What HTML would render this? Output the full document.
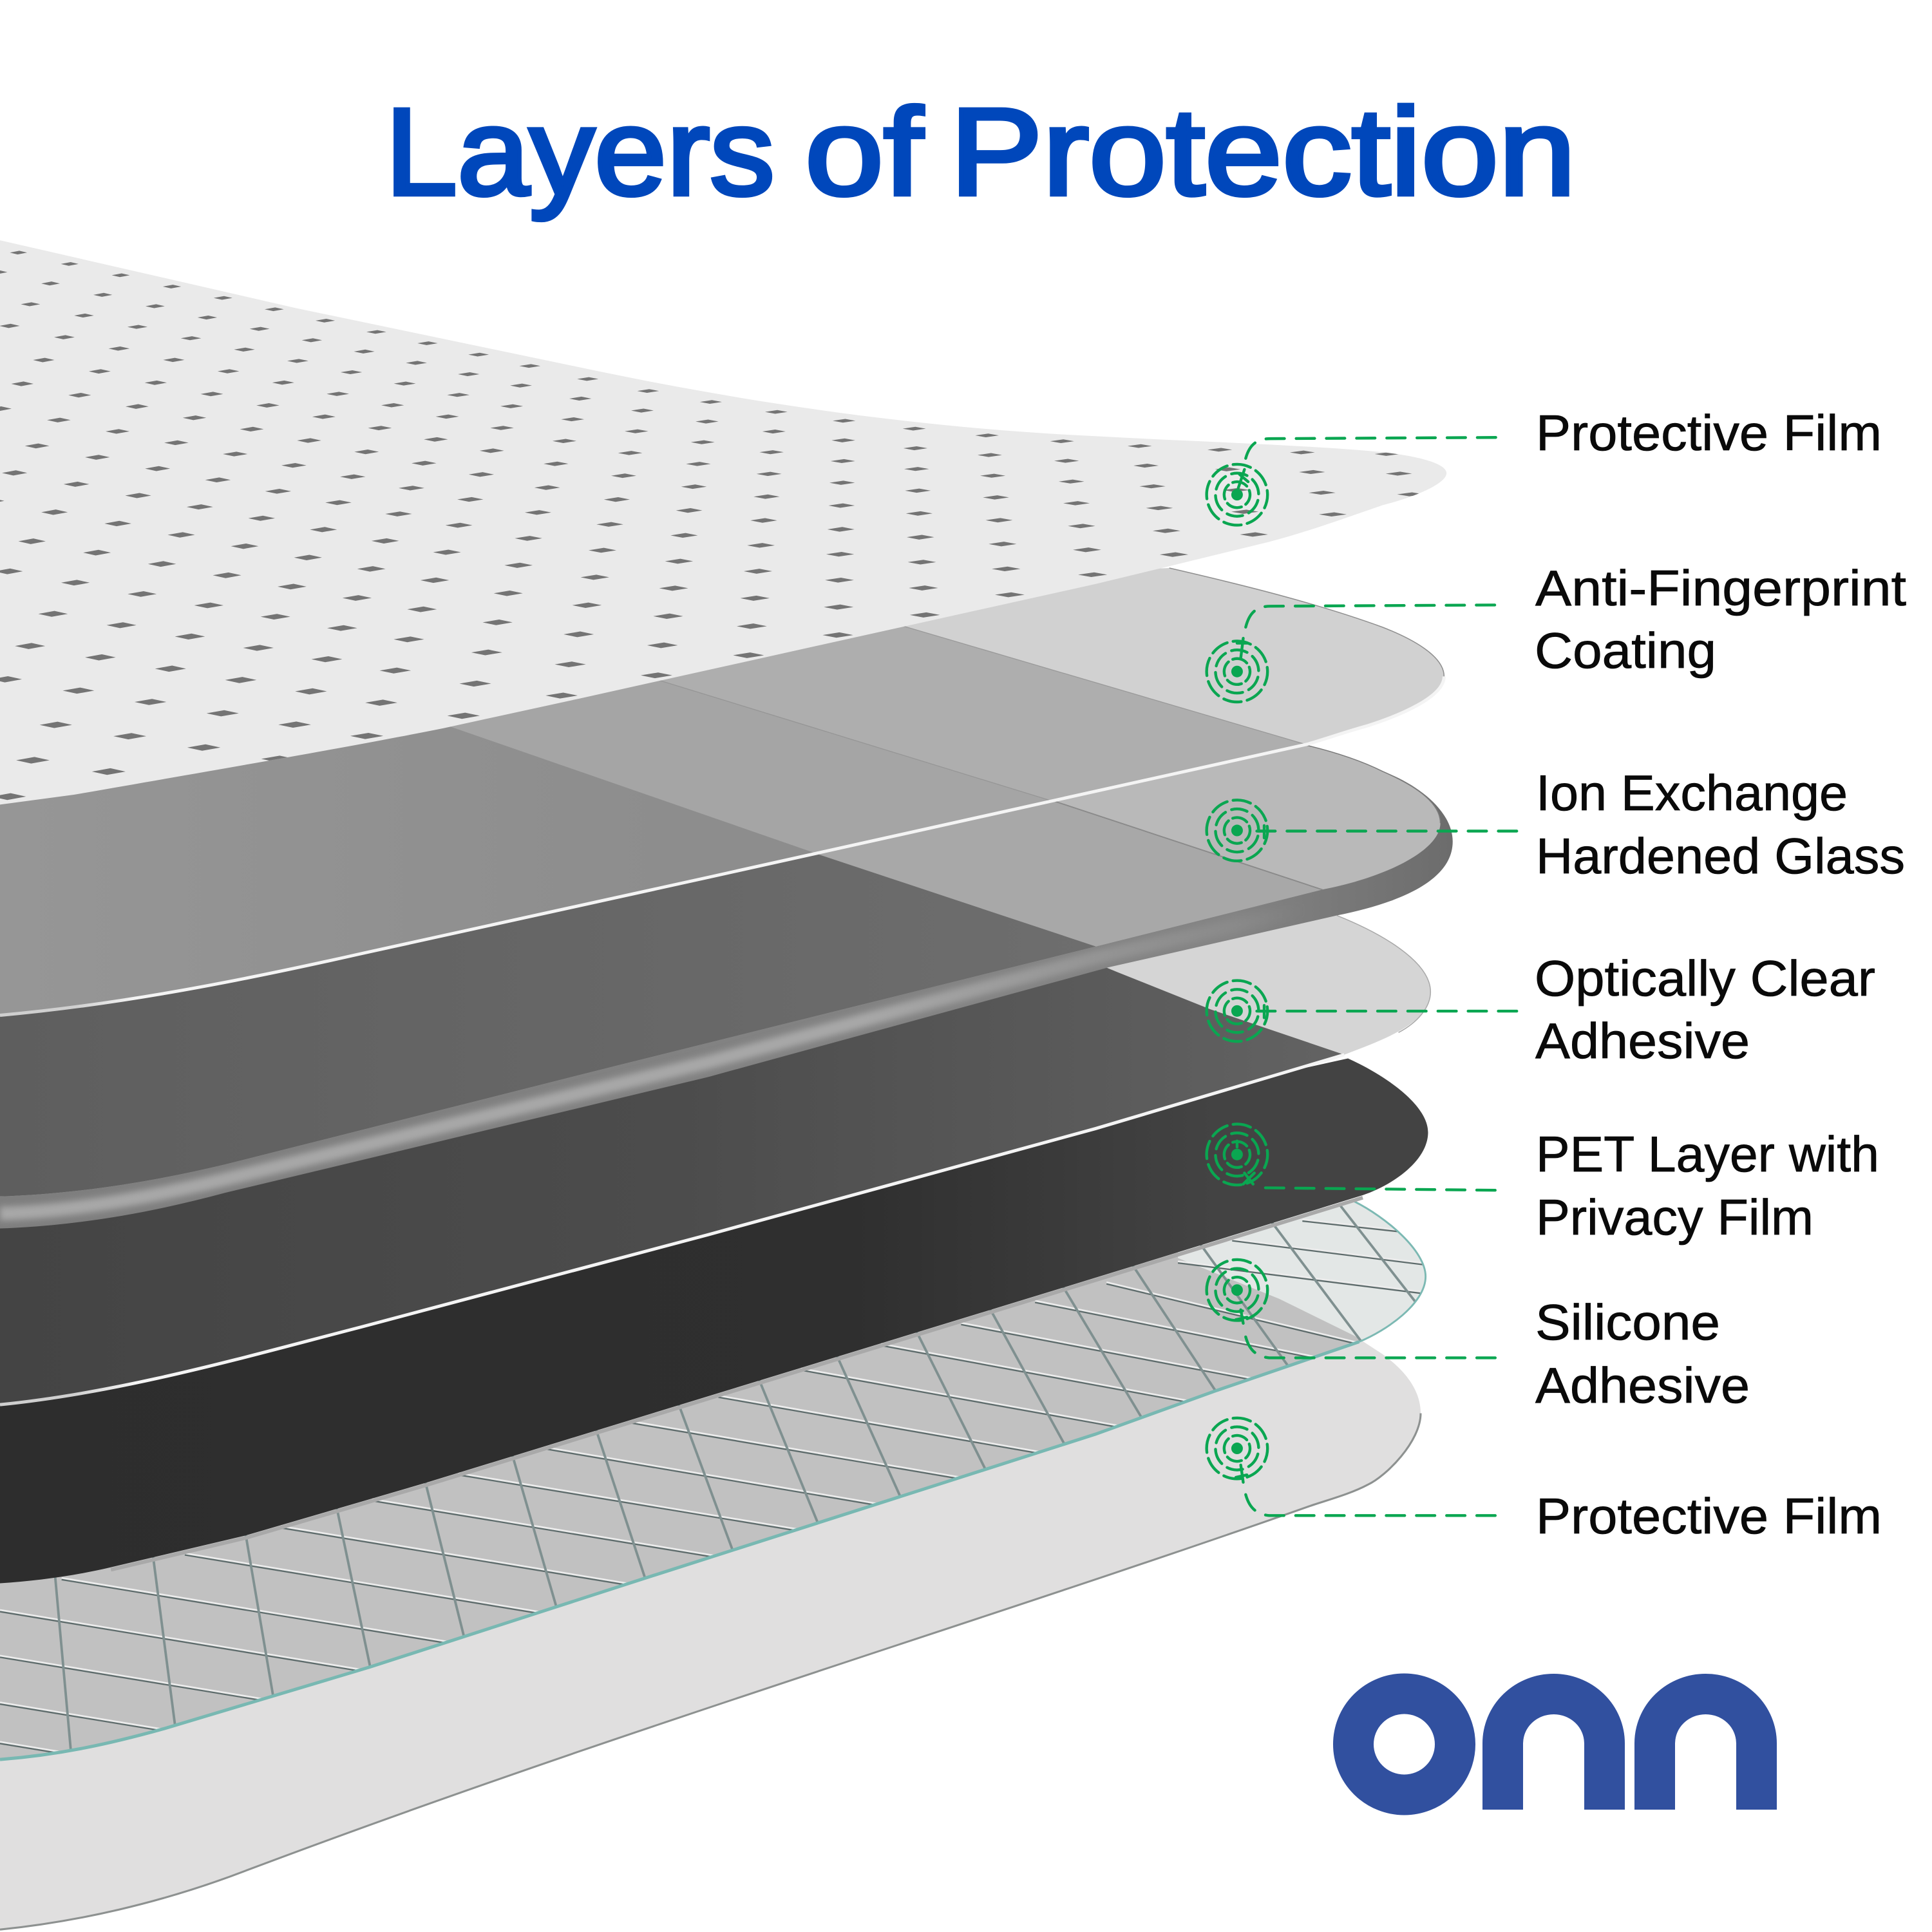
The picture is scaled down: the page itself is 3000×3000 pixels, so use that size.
<!DOCTYPE html>
<html><head><meta charset="utf-8"><title>Layers of Protection</title>
<style>html,body{margin:0;padding:0;background:#fff}svg{display:block}
text{font-family:"Liberation Sans",sans-serif}</style></head>
<body>
<svg width="3000" height="3000" viewBox="0 0 3000 3000">
<defs>
<clipPath id="c1"><path id="p1" d="M0 195L240 250L470 298C620 330 760 348 889 354C960 358 1060 361 1122 367C1150 370 1174 376 1174 384C1174 392 1150 403 1122 410C1090 421 1060 432 1029 440L947 460L889 474L470 567L360 591C280 607 180 624 60 645L0 653Z"/></clipPath>
<clipPath id="c2"><path id="p2" d="M949 461C1010 475 1070 490 1122 509C1145 518 1172 532 1172 549C1172 566 1135 581 1110 589C1095 593 1078 599 1061 604L575 712L293 774C200 795 100 815 0 824L0 500Z"/></clipPath>
<clipPath id="c3"><path id="p3" d="M1061 605C1090 612 1110 620 1122 626C1145 636 1169 650 1169 668C1169 690 1125 712 1073 722L890 768L500 865L183 945C120 960 60 969 0 971L0 600Z"/></clipPath>
<clipPath id="c5"><path id="p5" d="M1085 743C1120 757 1161 780 1161 805C1161 830 1125 843 1091 856L889 916L575 1002L293 1077C200 1101 100 1130 0 1140L0 900Z"/></clipPath>
<clipPath id="cg"><path id="pg" d="M1099 975C1125 988 1157 1015 1157 1036C1157 1058 1125 1080 1103 1089L986 1129L889 1164L523 1281L300 1353L133 1403C90 1415 50 1424 0 1428L0 1200Z"/></clipPath>
<linearGradient id="g3" x1="0" x2="1" y1="0" y2="0"><stop offset="0" stop-color="#5e5e5e"/><stop offset="1" stop-color="#6e6e6e"/></linearGradient>
<linearGradient id="g4" x1="0" x2="1" y1="0" y2="0"><stop offset="0" stop-color="#969696"/><stop offset=".6" stop-color="#8d8d8d"/><stop offset="1" stop-color="#8d8d8d"/></linearGradient>
<linearGradient id="g5" x1="0" x2="1" y1="0" y2="0"><stop offset="0" stop-color="#444"/><stop offset=".5" stop-color="#4c4c4c"/><stop offset="1" stop-color="#636363"/></linearGradient>
<linearGradient id="g6" x1="0" x2="1" y1="0" y2="0"><stop offset="0" stop-color="#2d2d2d"/><stop offset=".6" stop-color="#2f2f2f"/><stop offset=".85" stop-color="#434343"/><stop offset="1" stop-color="#434343"/></linearGradient>
<linearGradient id="gr" x1="0" x2="1" y1="0" y2="0"><stop offset="0" stop-color="#7e7e7e"/><stop offset=".85" stop-color="#848484"/><stop offset="1" stop-color="#6c6c6c"/></linearGradient>
<linearGradient id="wl" gradientUnits="userSpaceOnUse" x1="60" y1="0" x2="110" y2="0"><stop offset="0" stop-color="#cfcfcf"/><stop offset="1" stop-color="#f4f4f4"/></linearGradient>
<linearGradient id="hl" gradientUnits="userSpaceOnUse" x1="700" y1="0" x2="1060" y2="0"><stop offset="0" stop-color="#a8a8a8"/><stop offset="1" stop-color="#a8a8a8" stop-opacity="0"/></linearGradient>
<filter id="bl" filterUnits="userSpaceOnUse" x="-20" y="700" width="1120" height="320"><feGaussianBlur stdDeviation="2.5"/></filter>
<g id="t" fill="none" stroke="#0aa651" stroke-width="2.3" stroke-linecap="round">
<circle r="24.7" stroke-dasharray="14.5 4.9" transform="rotate(-8)"/>
<circle r="17.5" stroke-dasharray="13 5.3" transform="rotate(15)"/>
<circle r="10.5" stroke-dasharray="12.5 4" transform="rotate(-20)"/>
<circle r="4.7" fill="#0aa651" stroke="none"/>
</g>
</defs>
<rect width="3000" height="3000" fill="#fff"/>

<g transform="scale(1.91327)">
<!-- bottom protective film -->
<path d="M1038 1054L1099 1084L1122 1099C1140 1112 1153 1128 1153 1147C1153 1170 1125 1198 1110 1205C1095 1213 1075 1218 1061 1223C800 1315 500 1405 200 1518C130 1545 60 1560 0 1566L0 1300Z" fill="#e0dfdf"/>
<path d="M1153 1147C1153 1170 1125 1198 1110 1205C1095 1213 1075 1218 1061 1223C800 1315 500 1405 200 1518C130 1545 60 1560 0 1566" fill="none" stroke="#8d9190" stroke-width="1.6"/>

<!-- mesh glass -->
<use href="#pg" fill="#e3e7e6"/>
<g clip-path="url(#cg)">
<path d="M956 1021L1038 1054L1099 1084L1125 1100L1000 1200L0 1500L0 1100L956 1000Z" fill="#c1c1c1"/>
<g id="mesh"></g>
</g>
<path d="M1099 975C1125 988 1157 1015 1157 1036C1157 1058 1125 1080 1103 1089" fill="none" stroke="#7cb9b3" stroke-width="1.5"/>
<path d="M1103 1089L986 1129L889 1164L523 1281L300 1353L133 1403C90 1415 50 1424 0 1428" fill="none" stroke="#78b8b2" stroke-width="2.6"/>

<!-- PET dark layer -->
<path d="M1106 972L889 1039L523 1151L347 1205L200 1248L90 1274" fill="none" stroke="#a9a9a9" stroke-width="3"/>
<path d="M1094 859C1125 873 1159 897 1159 919C1159 942 1130 962 1106 970L889 1037L523 1149L347 1203L200 1246L90 1272C60 1279 30 1283 0 1285L0 1100Z" fill="url(#g6)"/>

<!-- OCA layer -->
<use href="#p5" fill="#d5d5d5"/>
<g clip-path="url(#c5)"><path d="M365 590L660 692L890 782L907 789L982 819L1091 856L1100 860L0 1200L0 590Z" fill="url(#g5)"/></g>
<path d="M1091 856L889 916L575 1002L293 1077C200 1101 100 1130 0 1140" fill="none" stroke="url(#wl)" stroke-width="2.6"/>
<path d="M1085 743C1120 757 1161 780 1161 805C1161 818 1150 830 1135 838" fill="none" stroke="#a9a9a9" stroke-width=".8"/>

<!-- Ion glass + rim -->
<path d="M1122 626C1150 636 1179 658 1179 683C1179 715 1135 733 1085 743L900 785L575 874L183 968C120 985 60 995 0 997L0 960Z" fill="url(#gr)"/>
<path d="M0 985C60 983 120 972 183 957L575 862L890 777L1060 738" fill="none" stroke="url(#hl)" stroke-width="11" filter="url(#bl)"/>
<use href="#p3" fill="#b9b9b9"/>
<g clip-path="url(#c3)">
<path d="M545 555L855 650L1073 722L1090 800L0 1000L0 555Z" fill="#a8a8a8" stroke="#8a8a8a" stroke-width="1"/>
<path d="M365 590L660 692L895 770L900 800L0 1000L0 590Z" fill="url(#g3)"/>
</g>
<path d="M1061 605C1090 612 1110 620 1122 626C1145 636 1169 650 1169 668" fill="none" stroke="#7a7a7a" stroke-width=".8"/>

<!-- Anti-fingerprint coating -->
<use href="#p2" fill="#d1d1d1"/>
<g clip-path="url(#c2)">
<path d="M600 469L1100 616L0 900L0 469Z" fill="#aeaeae" stroke="#9a9a9a" stroke-width=".7"/>
<path d="M450 526L1000 695L0 900L0 526Z" fill="#a5a5a5" stroke="#969696" stroke-width=".7"/>
<path d="M300 567L900 775L0 1000L0 567Z" fill="url(#g4)"/>
</g>
<path d="M949 461C1010 475 1070 490 1122 509C1145 518 1172 532 1172 549" fill="none" stroke="#8f8f8f" stroke-width=".8"/>
<path d="M1172 549C1172 566 1135 581 1110 589C1095 593 1078 599 1061 604L575 712L293 774C200 795 100 815 0 824" fill="none" stroke="url(#wl)" stroke-width="2.6"/>

<!-- top film with dots -->
<use href="#p1" fill="#eaeaea"/>
<g clip-path="url(#c1)"><path id="dots" fill="#747474" d=""/></g>

<!-- leaders -->
<g fill="none" stroke="#0aa651" stroke-width="2.3" stroke-linecap="round">
<g stroke-dasharray="15 9.5">
<path d="M1011 372C1014 361 1020 356 1031 356L1217 355"/>
<path d="M1011 509C1014 497 1020 492 1031 492L1217 491"/>
<path d="M1020 674.5L1232 674.5"/>
<path d="M1020 820.6L1232 820.6"/>
<path d="M1027 964L1214 966"/>
<path d="M1011 1085C1014 1096 1020 1101 1030 1102L1216 1102"/>
<path d="M1011 1213C1014 1224 1020 1229 1030 1230L1216 1230"/>
</g>
<path d="M1005 396L1010 381M1006 385L1013 391"/>
<path d="M1007 534L1009 518M1004 522L1012 522"/>
<path d="M1021 674.5L1027 674.5M1026 670L1026 680"/>
<path d="M1021 820.6L1027 820.6M1026 816L1026 826"/>
<path d="M1004 931L1004 926M1010 952L1017 961M1009 961L1018 952"/>
<path d="M1007 1063L1009 1074M1003 1071L1012 1069"/>
<path d="M1007 1189L1009 1203M1003 1199L1012 1197"/>
</g>
<use href="#t" x="1004" y="401.5"/>
<use href="#t" x="1004" y="545"/>
<use href="#t" x="1004" y="674"/>
<use href="#t" x="1004" y="820.5"/>
<use href="#t" x="1004" y="937"/>
<use href="#t" x="1004" y="1047"/>
<use href="#t" x="1004" y="1175.5"/>
</g>

<!-- title -->
<g font-size="192" fill="#0047bb" stroke="#0047bb" stroke-width="6.5">
<text x="598" y="302" textLength="605" lengthAdjust="spacingAndGlyphs">Layers</text>
<text x="1250" y="302" textLength="183" lengthAdjust="spacingAndGlyphs">of</text>
<text x="1475" y="302" textLength="972" lengthAdjust="spacingAndGlyphs">Protection</text>
</g>

<!-- labels -->
<g font-size="78" fill="#0a0a0a" stroke="#0a0a0a" stroke-width=".8">
<text x="2385" y="699" textLength="537" lengthAdjust="spacingAndGlyphs">Protective Film</text>
<text x="2384" y="940" textLength="576" lengthAdjust="spacingAndGlyphs">Anti-Fingerprint</text>
<text x="2383" y="1037" textLength="282" lengthAdjust="spacingAndGlyphs">Coating</text>
<text x="2385" y="1258" textLength="484" lengthAdjust="spacingAndGlyphs">Ion Exchange</text>
<text x="2385" y="1356" textLength="573" lengthAdjust="spacingAndGlyphs">Hardened Glass</text>
<text x="2383" y="1546" textLength="529" lengthAdjust="spacingAndGlyphs">Optically Clear</text>
<text x="2384" y="1643" textLength="333" lengthAdjust="spacingAndGlyphs">Adhesive</text>
<text x="2385" y="1819" textLength="533" lengthAdjust="spacingAndGlyphs">PET Layer with</text>
<text x="2385" y="1917" textLength="431" lengthAdjust="spacingAndGlyphs">Privacy Film</text>
<text x="2384" y="2080" textLength="287" lengthAdjust="spacingAndGlyphs">Silicone</text>
<text x="2384" y="2178" textLength="333" lengthAdjust="spacingAndGlyphs">Adhesive</text>
<text x="2385" y="2381" textLength="537" lengthAdjust="spacingAndGlyphs">Protective Film</text>
</g>

<!-- logo: real text with the wordmark's geometric strokes over it -->
<g font-weight="700" fill="#31509f">
<text x="2065" y="2805" font-size="360" textLength="230" lengthAdjust="spacingAndGlyphs">o</text>
<text x="2324" y="2805" font-size="290" textLength="177" lengthAdjust="spacingAndGlyphs">n</text>
<text x="2560" y="2805" font-size="290" textLength="177" lengthAdjust="spacingAndGlyphs">n</text>
</g>
<g fill="#fff">
<ellipse cx="2180.5" cy="2708.5" rx="48" ry="48"/>
<path d="M2365 2815V2707A47.5 46 0 0 1 2460 2707V2815Z"/>
<path d="M2601 2815V2707A47.5 46 0 0 1 2696 2707V2815Z"/>
</g>
<g fill="none" stroke="#31509f" stroke-width="63">
<ellipse cx="2180.5" cy="2708.5" rx="79" ry="78.5"/>
<path d="M2333.5 2810V2707A79 76.5 0 0 1 2491.5 2707V2810"/>
<path d="M2569.5 2810V2707A79 76.5 0 0 1 2727.5 2707V2810"/>
</g>
</svg>
<script>
(function(){
var d='';
for(var j=0;j<=26;j++){for(var i=-6;i<=25;i++){
 var tx,ty,m=i-10;
 if(i<=10){tx=15+41.5*i;ty=205+9.2*i;}else{tx=430+46*m+m*m;ty=297+11*m-.42*m*m;}
 var bx=i>10?(-7.2+1.35*m):Math.max(-20,-16+.9*i);
 var x=tx+bx*(j+.025*j*j),y=ty+15.5*j+.425*j*j;
 if(x<-20||x>1200)continue;
 var w=14+.7*j+.3*Math.max(0,i),h=3+.15*j;
 d+='M'+(x-w/2).toFixed(1)+' '+y.toFixed(1)+'l'+(w*.55).toFixed(1)+' '+(-h/2).toFixed(1)+'l'+(w*.45).toFixed(1)+' '+(h/2).toFixed(1)+'l'+(-w*.55).toFixed(1)+' '+(h/2).toFixed(1)+'z';
}}
document.getElementById('dots').setAttribute('d',d);
var s='';
var A=[[0,1308,.165],[0,1345,.165],[0,1383,.165],[0,1415,.165],[50,1282,.165],[150,1262,.165],[228,1240,.165],[302,1218,.165],[372,1197,.165],[443,1176,.17],[513,1155,.17],[583,1134,.175],[650,1112,.18],[715,1092,.185],[780,1075,.19],[840,1057,.2],[898,1042,.24],[956,1025,.125],[1000,1007,.125],[1057,991,.11]];
A.forEach(function(a){var x2=a[0]+700,y2=a[1]+700*a[2];
 s+='<line x1="'+a[0]+'" y1="'+(a[1]-1.3)+'" x2="'+x2+'" y2="'+(y2-1.3)+'" stroke="#ececec" stroke-width="1.5"/>';
 s+='<line x1="'+a[0]+'" y1="'+a[1]+'" x2="'+x2+'" y2="'+y2+'" stroke="#5d6b6b" stroke-width="1.2"/>';});
var B=[[45,1282,.09],[125,1269,.13],[200,1249,.17],[274,1227,.21],[346,1206,.25],[417,1185,.29],[485,1164,.33],[552,1143,.37],[617,1122,.41],[680,1102,.45],[745,1083,.5],[805,1065,.55],[865,1048,.6],[922,1031,.66],[978,1015,.72],[1036,997,.75],[1089,980,.78]];
B.forEach(function(b){
 s+='<line x1="'+(b[0]-b[2]*40)+'" y1="'+(b[1]-40)+'" x2="'+(b[0]+b[2]*220)+'" y2="'+(b[1]+220)+'" stroke="#7f9090" stroke-width="2"/>';});
document.getElementById('mesh').innerHTML=s;
})();
</script>
</body></html>
